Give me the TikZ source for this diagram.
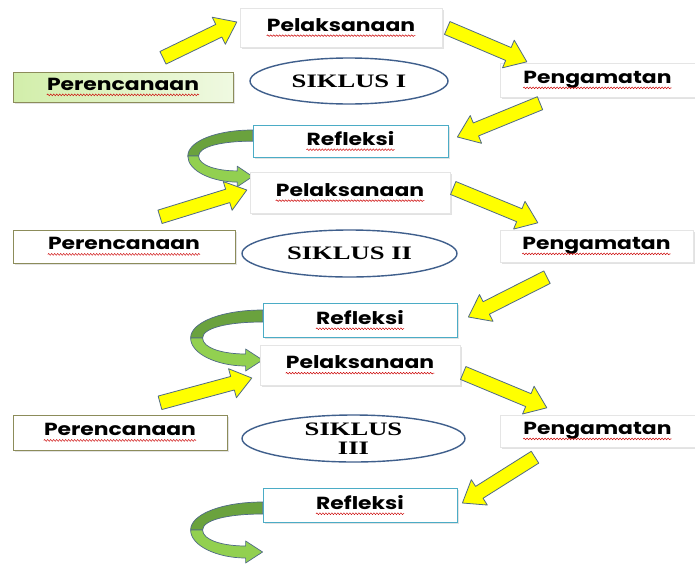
\documentclass[tikz,border=0pt]{standalone}
\usepackage{fontspec}
\usetikzlibrary{calc,shapes.geometric,shadows,decorations.pathmorphing}
\newfontfamily\boxfont{Poppins}[FakeStretch=1.25]
\newfontfamily\siklusfont{Liberation Serif}[FakeStretch=1.4]
\definecolor{arrowline}{HTML}{4F6A85}
\definecolor{arrowfill}{HTML}{FFFF00}
\definecolor{turndark}{HTML}{6AA23E}
\definecolor{turnlight}{HTML}{92D050}
\definecolor{refline}{HTML}{4BACC6}
\definecolor{perline}{HTML}{8C8C5A}
\definecolor{perfill}{HTML}{D2EEAA}
\definecolor{ovalline}{HTML}{3F5F8C}
\def\blockarrow(#1)(#2){%
  \coordinate (bh) at ($(#2)!20pt!(#1)$);
  \draw[yarrow] ($(#1)!7pt!90:(#2)$) -- ($(bh)!7pt!90:(#2)$) -- ($(bh)!15pt!90:(#2)$) -- (#2) -- ($(bh)!15pt!-90:(#2)$) -- ($(bh)!7pt!-90:(#2)$) -- ($(#1)!7pt!-90:(#2)$) -- cycle;}
\newcommand\spellwave[1]{\tikz[baseline=(w.base)]{\node[wordnode] (w) {#1}; \draw[wave] ([yshift=-4.5pt]w.base west) -- ([yshift=-4.5pt]w.base east);}}
\tikzset{
  wave/.style={red!80!black, line width=0.5pt, decorate, decoration={snake, amplitude=0.8pt, segment length=3pt}},
  wordnode/.style={shape=rectangle, inner sep=0pt, minimum width=0pt, minimum height=0pt, draw=none, fill=none},
  boxtext/.style={font=\boxfont\bfseries\fontsize{17.5pt}{20pt}\selectfont, inner sep=0pt},
  pelbox/.style={boxtext, fill=white, draw=gray!20, drop shadow={shadow xshift=2pt, shadow yshift=-2pt, fill=gray!45}},
  refbox/.style={boxtext, fill=white, draw=refline, thick, drop shadow={shadow xshift=2pt, shadow yshift=-2pt, fill=gray!45}},
  perbox/.style={boxtext, fill=white, draw=perline, drop shadow={shadow xshift=2pt, shadow yshift=-2pt, fill=gray!45}},
  siklus/.style={ellipse, draw=ovalline, line width=1.4pt, fill=white, inner sep=0pt, align=center, font=\siklusfont\bfseries\fontsize{19pt}{19pt}\selectfont},
  yarrow/.style={fill=arrowfill, draw=arrowline, line width=0.8pt, line join=round},
  turn/.pic={
    \filldraw[fill=turndark, draw=arrowline, line width=0.7pt] (0,0) .. controls (-40,0) and (-72,-12) .. (-72,-28) -- (-60,-28) .. controls (-60,-18) and (-35,-12) .. (0,-12) -- cycle;
    \filldraw[fill=turnlight, draw=arrowline, line width=0.7pt, line join=round] (-72,-28) .. controls (-72,-44) and (-45,-56) .. (-17,-56) -- (-17,-61) -- (0,-50) -- (-17,-39) -- (-17,-44) .. controls (-40,-44) and (-60,-38) .. (-60,-28) -- cycle;
  }
}
\begin{document}
\begin{tikzpicture}[x=1pt, y=1pt]
	%%%%% START %%%%%
	\useasboundingbox[fill=white] (0,0) rectangle (695,-565);
	
	% siklus I
	\node[pelbox, minimum width=202pt, minimum height=39pt] (pel1) at (341,-27.5) {\spellwave{Pelaksanaan}};
	\node[perbox, minimum width=220pt, minimum height=30pt, left color=perfill, right color=perfill!35!white] (per1) at (123,-87) {\spellwave{Perencanaan}};
	\node[siklus, minimum width=198pt, minimum height=46pt] (sik1) at (349,-81) {SIKLUS I};
	\node[pelbox, minimum width=195pt, minimum height=34pt] (pen1) at (597.5,-80) {\spellwave{Pengamatan}};
	\node[refbox, minimum width=195pt, minimum height=32pt] (ref1) at (350.5,-141) {\spellwave{Refleksi}};
	
	\coordinate (a1) at ([shift={(40,14)}]per1.north);
	\coordinate (b1) at ([shift={(-3,5.5)}]pel1.west);
	\coordinate (c1) at ([shift={(5,-0.5)}]pel1.east);
	\coordinate (d1) at ([shift={(27,1)}]pen1.north west);
	\coordinate (e1) at ([shift={(-57.5,-6)}]pen1.south);
	\coordinate (f1) at ([shift={(9,4)}]ref1.east);
	\blockarrow(a1)(b1)
	\blockarrow(c1)(d1)
	\blockarrow(e1)(f1)
	\pic[xscale=0.9, yscale=0.93] at ([yshift=11]ref1.west) {turn};
	
	% siklus II
	\node[pelbox, minimum width=200pt, minimum height=41pt] (pel2) at (350,-192.5) {\spellwave{Pelaksanaan}};
	\node[perbox, minimum width=222pt, minimum height=33pt] (per2) at (124,-246.5) {\spellwave{Perencanaan}};
	\node[siklus, minimum width=215pt, minimum height=47pt] (sik2) at (349.5,-253.5) {SIKLUS II};
	\node[pelbox, minimum width=193pt, minimum height=32pt] (pen2) at (596.5,-246) {\spellwave{Pengamatan}};
	\node[refbox, minimum width=194pt, minimum height=34pt] (ref2) at (360,-320) {\spellwave{Refleksi}};
	
	\coordinate (a2) at ([shift={(36,13)}]per2.north);
	\coordinate (b2) at ([shift={(-3,2.5)}]pel2.west);
	\coordinate (c2) at ([shift={(3,4.5)}]pel2.east);
	\coordinate (d2) at ([shift={(38,7)}]pen2.north west);
	\coordinate (e2) at ([shift={(-49.5,-15)}]pen2.south);
	\coordinate (f2) at ([shift={(11,3)}]ref2.east);
	\blockarrow(a2)(b2)
	\blockarrow(c2)(d2)
	\blockarrow(e2)(f2)
	\pic at ([yshift=10]ref2.west) {turn};
	
	% siklus III
	\node[pelbox, minimum width=200pt, minimum height=40pt] (pel3) at (360,-365) {\spellwave{Pelaksanaan}};
	\node[perbox, minimum width=214pt, minimum height=35pt] (per3) at (120,-432.5) {\spellwave{Perencanaan}};
	\node[siklus, minimum width=223pt, minimum height=47pt] (sik3) at (353.5,-438.5) {SIKLUS\\III};
	\node[pelbox, minimum width=195pt, minimum height=32pt] (pen3) at (597.5,-431) {\spellwave{Pengamatan}};
	\node[refbox, minimum width=194pt, minimum height=34pt] (ref3) at (360,-505) {\spellwave{Refleksi}};
	
	\coordinate (a3) at ([shift={(40,12)}]per3.north);
	\coordinate (b3) at ([shift={(-8,-13)}]pel3.west);
	\coordinate (c3) at ([shift={(3,-8)}]pel3.east);
	\coordinate (d3) at ([shift={(47,7)}]pen3.north west);
	\coordinate (e3) at ([shift={(-62.5,-10)}]pen3.south);
	\coordinate (f3) at ([shift={(5,2)}]ref3.east);
	\blockarrow(a3)(b3)
	\blockarrow(c3)(d3)
	\blockarrow(e3)(f3)
	\pic at ([yshift=3]ref3.west) {turn};
	
	%%%%% END %%%%%
\end{tikzpicture}
\end{document}
